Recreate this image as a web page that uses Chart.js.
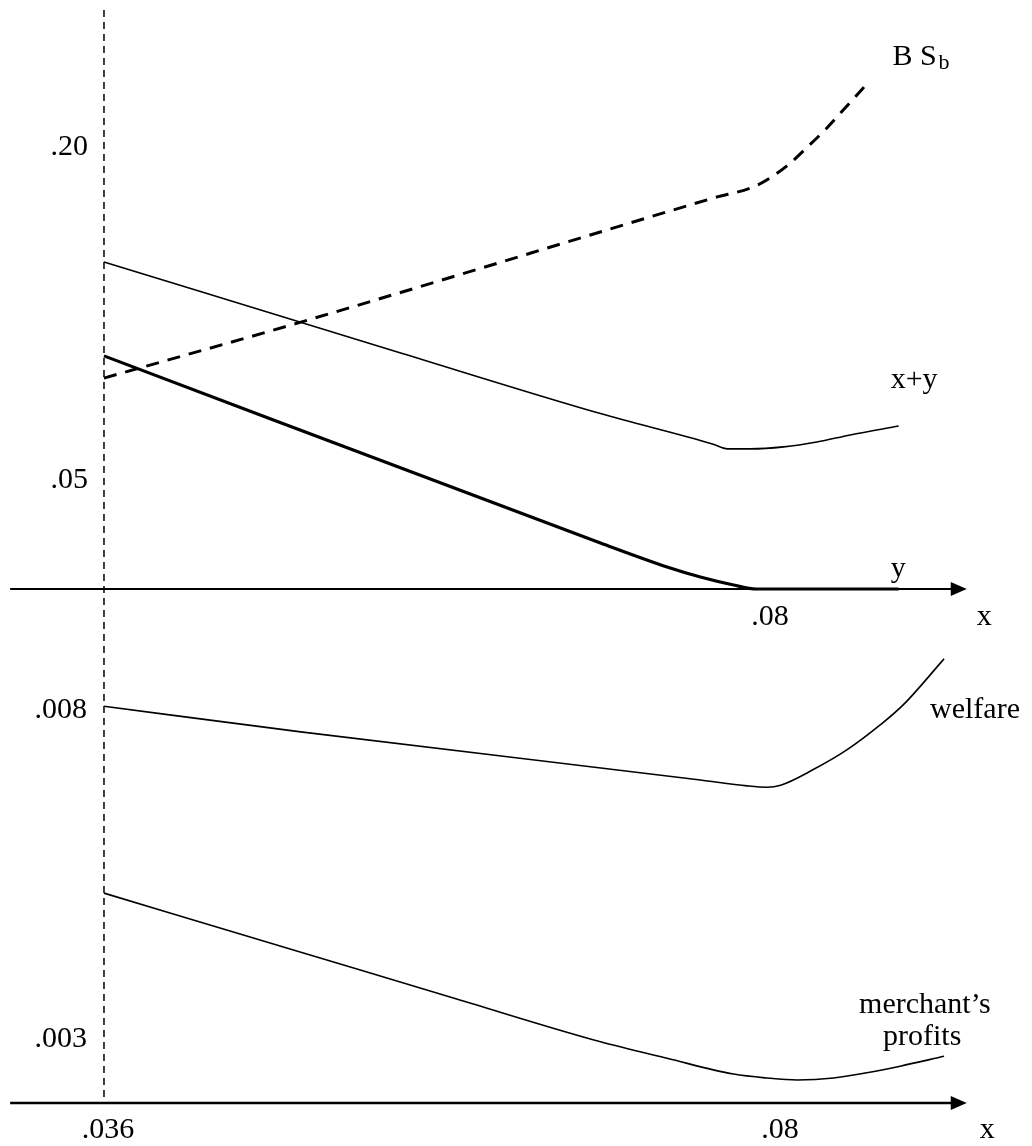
<!DOCTYPE html>
<html>
<head>
<meta charset="utf-8">
<script src="https://cdn.jsdelivr.net/npm/chart.js@4.4.1/dist/chart.umd.min.js"></script>
<style>
  html, body { margin: 0; padding: 0; background: #fff; }
  canvas { display: block; }
</style>
</head>
<body>
<canvas id="chart" width="1032" height="1146"></canvas>
<script>
// ---- data ----
// upper panel (x, y, x+y, B S_b)
const bsX = [0.036, 0.0489, 0.0762, 0.0792, 0.0811, 0.0824, 0.0837, 0.0849, 0.0861, 0.0865];
const bsY = [0.095, 0.1200, 0.1760, 0.1820, 0.1905, 0.1986, 0.2072, 0.2162, 0.2252, 0.2284];

const sumX = [0.036, 0.0556, 0.0688, 0.0762, 0.0772, 0.0787, 0.0809, 0.0831, 0.0853, 0.0885];
const sumY = [0.1473, 0.1063, 0.0790, 0.0653, 0.0631, 0.0631, 0.0640, 0.0662, 0.0694, 0.0734];

const yX = [0.036, 0.0688, 0.0732, 0.0754, 0.0776, 0.0791, 0.0885];
const yY = [0.1050, 0.0207, 0.0099, 0.0054, 0.0018, 0, 0];

// lower panel (welfare, merchant's profits)
const welfareX = [0.036, 0.049, 0.0754, 0.0785, 0.0798, 0.0807, 0.0828, 0.0851, 0.0873, 0.0888, 0.0915];
const welfareY = [0.00803, 0.00764, 0.00691, 0.00682, 0.00680, 0.00683, 0.00706, 0.00737, 0.00775, 0.00805, 0.00875];

const merchantX = [0.036, 0.0489, 0.0593, 0.0688, 0.0732, 0.0776, 0.0798, 0.0818, 0.0842, 0.0864, 0.0886, 0.0915];
const merchantY = [0.00519, 0.00430, 0.00358, 0.00293, 0.00268, 0.00244, 0.00238, 0.00235, 0.00238, 0.00246, 0.00256, 0.00271];

// tick labels
const topTickValues = [0.20, 0.05];
const topTickLabels = ['.20', '.05'];
const botTickValues = [0.008, 0.003];
const botTickLabels = ['.008', '.003'];
const topXTickValues = [0.08];
const topXTickLabels = ['.08'];
const botXTickValues = [0.036, 0.08];
const botXTickLabels = ['.036', '.08'];

// reference lines
const refX = 0.036;        // dashed vertical
const topAxisY = 0;        // upper x axis
const botAxisY = 0.002;    // lower x axis
const axisStartX = 0.0298;
const axisEndX = 0.0930;
const dashTopY = 0.2608;

const FONT = '"Liberation Serif", "Times New Roman", serif';

function pts(xs, ys) {
    return xs.map((x, i) => ({x: x, y: ys[i]}));
}

function drawAxis(ctx, xScale, py, width) {
    const x0 = xScale.getPixelForValue(axisStartX);
    const x1 = xScale.getPixelForValue(axisEndX);
    ctx.lineWidth = width;
    ctx.beginPath();
    ctx.moveTo(x0, py);
    ctx.lineTo(x1 - 12, py);
    ctx.stroke();
    // arrow head
    ctx.beginPath();
    ctx.moveTo(x1, py);
    ctx.lineTo(x1 - 16, py - 7);
    ctx.lineTo(x1 - 16, py + 7);
    ctx.closePath();
    ctx.fill();
}

const schemePlugin = {
    id: 'scheme',
    beforeDatasetsDraw(chart) {
        const {ctx} = chart;
        const {x, yTop, yBot} = chart.scales;
        ctx.save();
        ctx.strokeStyle = '#000';
        ctx.fillStyle = '#000';

        // dashed vertical line at x = .036
        const vx = x.getPixelForValue(refX);
        ctx.setLineDash([7, 5]);
        ctx.lineWidth = 1.5;
        ctx.beginPath();
        ctx.moveTo(vx, yTop.getPixelForValue(dashTopY));
        ctx.lineTo(vx, yBot.getPixelForValue(botAxisY));
        ctx.stroke();
        ctx.setLineDash([]);

        // the two x axes
        drawAxis(ctx, x, yTop.getPixelForValue(topAxisY), 2);
        drawAxis(ctx, x, yBot.getPixelForValue(botAxisY), 2.5);
        ctx.restore();
    },
    afterDatasetsDraw(chart) {
        const {ctx} = chart;
        const {x, yTop, yBot} = chart.scales;
        const vx = x.getPixelForValue(refX);
        ctx.save();
        ctx.fillStyle = '#000';
        ctx.font = '30px ' + FONT;
        ctx.textBaseline = 'alphabetic';

        // y tick labels, left of the dashed line
        ctx.textAlign = 'right';
        topTickValues.forEach((v, i) => {
            ctx.fillText(topTickLabels[i], vx - 16, yTop.getPixelForValue(v) + 10);
        });
        botTickValues.forEach((v, i) => {
            ctx.fillText(botTickLabels[i], vx - 17, yBot.getPixelForValue(v) + 10);
        });

        // x tick labels below each axis
        ctx.textAlign = 'center';
        const topAx = yTop.getPixelForValue(topAxisY);
        const botAx = yBot.getPixelForValue(botAxisY);
        topXTickValues.forEach((v, i) => {
            ctx.fillText(topXTickLabels[i], x.getPixelForValue(v), topAx + 36);
        });
        botXTickValues.forEach((v, i) => {
            const nudge = v === 0.08 ? 10 : 4;
            ctx.fillText(botXTickLabels[i], x.getPixelForValue(v) + nudge, botAx + 35);
        });

        // axis names
        ctx.textAlign = 'left';
        const tip = x.getPixelForValue(axisEndX);
        ctx.fillText('x', tip + 10, topAx + 36);
        ctx.fillText('x', tip + 13, botAx + 35);

        // curve names, placed next to the curve ends
        const end = (xs, ys, sc) => ({
            px: x.getPixelForValue(xs[xs.length - 1]),
            py: sc.getPixelForValue(ys[ys.length - 1])
        });
        const bs = end(bsX, bsY, yTop);
        ctx.fillText('B S', bs.px + 24, bs.py - 17);
        const bw = ctx.measureText('B S').width;
        ctx.font = '22px ' + FONT;
        ctx.fillText('b', bs.px + 24 + bw + 2, bs.py - 13);
        ctx.font = '30px ' + FONT;

        const sm = end(sumX, sumY, yTop);
        ctx.fillText('x+y', sm.px - 8, sm.py - 38);
        const yy = end(yX, yY, yTop);
        ctx.fillText('y', yy.px - 8, yy.py - 12);

        const wf = end(welfareX, welfareY, yBot);
        ctx.fillText('welfare', wf.px - 14, wf.py + 59);
        const mp = end(merchantX, merchantY, yBot);
        ctx.fillText('merchant\u2019s', mp.px - 85, mp.py - 43);
        ctx.fillText('profits', mp.px - 61, mp.py - 11);
        ctx.restore();
    }
};

const lineStyle = {
    borderColor: '#000',
    backgroundColor: '#000',
    pointRadius: 0,
    fill: false,
    cubicInterpolationMode: 'monotone'
};

new Chart(document.getElementById('chart'), {
    type: 'line',
    data: {
        datasets: [
            {label: 'B S_b', data: pts(bsX, bsY), yAxisID: 'yTop', borderWidth: 3, borderDash: [13, 9], ...lineStyle},
            {label: 'x+y', data: pts(sumX, sumY), yAxisID: 'yTop', borderWidth: 1.6, ...lineStyle},
            {label: 'y', data: pts(yX, yY), yAxisID: 'yTop', borderWidth: 3.2, ...lineStyle},
            {label: 'welfare', data: pts(welfareX, welfareY), yAxisID: 'yBot', borderWidth: 1.6, ...lineStyle},
            {label: "merchant's profits", data: pts(merchantX, merchantY), yAxisID: 'yBot', borderWidth: 1.6, ...lineStyle}
        ]
    },
    options: {
        responsive: false,
        animation: false,
        devicePixelRatio: 1,
        layout: {padding: 0},
        plugins: {
            legend: {display: false},
            tooltip: {enabled: false}
        },
        scales: {
            x: {type: 'linear', min: 0.02913, max: 0.09731, display: false},
            yTop: {type: 'linear', min: -0.2509, max: 0.2653, display: false},
            yBot: {type: 'linear', min: 0.001347, max: 0.018763, display: false}
        }
    },
    plugins: [schemePlugin]
});
</script>
</body>
</html>
